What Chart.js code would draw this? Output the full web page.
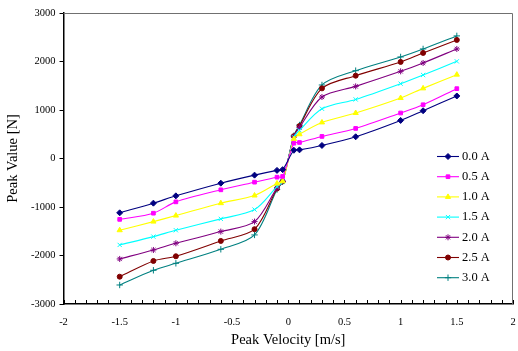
<!DOCTYPE html>
<html>
<head>
<meta charset="utf-8">
<script src="https://cdn.jsdelivr.net/npm/chart.js"></script>
<style>
  html, body { margin: 0; padding: 0; background: #fff; }
  #wrap { width: 518px; height: 351px; }
</style>
</head>
<body>
<div id="wrap"><canvas id="c" width="518" height="351"></canvas></div>
<script>
// ---- data ----
const velocities = [-1.5, -1.2, -1.0, -0.6, -0.3, -0.1, -0.05, 0.05, 0.1, 0.3, 0.6, 1.0, 1.2, 1.5];
const seriesLabels = ['0.0 A', '0.5 A', '1.0 A', '1.5 A', '2.0 A', '2.5 A', '3.0 A'];
const force00 = [-1120, -921, -770, -509, -343, -245, -230, 170, 178, 269, 448, 785, 985, 1289];
const force05 = [-1255, -1128, -894, -646, -488, -385, -370, 315, 330, 455, 620, 938, 1109, 1440];
const force10 = [-1479, -1301, -1177, -921, -763, -515, -470, 400, 500, 744, 938, 1247, 1446, 1729];
const force15 = [-1782, -1611, -1479, -1245, -1053, -580, -480, 440, 580, 1026, 1218, 1543, 1722, 2003];
const force20 = [-2071, -1886, -1748, -1507, -1301, -605, -470, 450, 640, 1268, 1487, 1797, 1970, 2259];
const force25 = [-2437, -2113, -2016, -1700, -1458, -620, -470, 460, 670, 1446, 1708, 1991, 2177, 2445];
const force30 = [-2608, -2305, -2161, -1872, -1576, -640, -480, 470, 690, 1516, 1811, 2094, 2259, 2528];
const xTicks = [-2, -1.5, -1, -0.5, 0, 0.5, 1, 1.5, 2];
const yTicks = [-3000, -2000, -1000, 0, 1000, 2000, 3000];

// ---- styles ----
const colors = ['#000080', '#FF00FF', '#FFFF00', '#00FFFF', '#800080', '#800000', '#008080'];
const markers = ['rectRot', 'rect', 'triangle', 'crossRot', 'star', 'circle', 'cross'];
const radii = [3, 2.6, 3, 3, 3, 2.5, 3.2];
const allSeries = [force00, force05, force10, force15, force20, force25, force30];

const datasets = allSeries.map((vals, i) => ({
  label: seriesLabels[i],
  data: velocities.map((v, j) => ({ x: v, y: vals[j] })),
  borderColor: colors[i],
  backgroundColor: colors[i],
  pointBackgroundColor: colors[i],
  pointBorderColor: colors[i],
  pointStyle: markers[i],
  pointRadius: radii[i],
  pointBorderWidth: 1,
  borderWidth: 1.1,
  tension: 0.3,
  fill: false
}));

const SERIF = '"Liberation Serif", "Times New Roman", serif';

const framePlugin = {
  id: 'frame',
  beforeDatasetsDraw(chart) {
    const { ctx, chartArea: a, scales: { x } } = chart;
    ctx.save();
    ctx.strokeStyle = '#707070';
    ctx.lineWidth = 1;
    ctx.beginPath();
    ctx.moveTo(a.left, a.top + 0.5);
    ctx.lineTo(a.right - 0.5, a.top + 0.5);
    ctx.lineTo(a.right - 0.5, a.bottom);
    ctx.stroke();
    ctx.strokeStyle = '#000';
    ctx.beginPath();
    for (let i = -20; i <= 20; i++) {
      const px = Math.round(x.getPixelForValue(i / 10)) + 0.5;
      ctx.moveTo(px, a.bottom);
      ctx.lineTo(px, a.bottom - 4);
    }
    ctx.stroke();
    ctx.restore();
  }
};

const legendPlugin = {
  id: 'insideLegend',
  afterDraw(chart) {
    const { ctx, chartArea: a } = chart;
    ctx.save();
    chart.data.datasets.forEach((ds, i) => {
      const y = a.top + 143.5 + i * 20.2;
      const x0 = a.right - 76, x1 = a.right - 54;
      ctx.strokeStyle = ds.borderColor;
      ctx.lineWidth = 1.1;
      ctx.beginPath();
      ctx.moveTo(x0, y);
      ctx.lineTo(x1, y);
      ctx.stroke();
      ctx.fillStyle = ds.backgroundColor;
      ctx.strokeStyle = ds.borderColor;
      ctx.lineWidth = 1;
      Chart.helpers.drawPoint(ctx, { pointStyle: ds.pointStyle, radius: ds.pointRadius, borderWidth: 1, rotation: 0 }, (x0 + x1) / 2, y);
      ctx.fillStyle = '#000';
      ctx.font = '12.5px ' + SERIF;
      ctx.textBaseline = 'middle';
      ctx.textAlign = 'left';
      ctx.fillText(ds.label, a.right - 51, y);
    });
    ctx.restore();
  }
};

new Chart(document.getElementById('c'), {
  type: 'line',
  data: { datasets },
  plugins: [framePlugin, legendPlugin],
  options: {
    responsive: false,
    devicePixelRatio: 1,
    animation: false,
    layout: { padding: { top: 13, right: 4, left: 0, bottom: 0 } },
    plugins: { legend: { display: false }, tooltip: { enabled: false } },
    scales: {
      x: {
        type: 'linear',
        min: -2, max: 2,
        afterBuildTicks: s => { s.ticks = xTicks.map(v => ({ value: v })); },
        afterFit: s => { s.height = 47; s.paddingLeft = 0; s.paddingRight = 0; },
        ticks: { font: { family: SERIF, size: 10.5 }, color: '#000', padding: 12, callback: v => String(v), maxRotation: 0, autoSkip: false },
        grid: { display: false, drawTicks: false },
        border: { display: true, color: '#000', width: 1.5 },
        title: { display: true, text: 'Peak Velocity [m/s]', font: { family: SERIF, size: 14.5 }, color: '#000', padding: { top: 0, bottom: 2 } }
      },
      y: {
        type: 'linear',
        min: -3000, max: 3000,
        afterBuildTicks: s => { s.ticks = yTicks.map(v => ({ value: v })); },
        afterFit: s => { s.width = 63.5; },
        ticks: { font: { family: SERIF, size: 10.5 }, color: '#000', padding: 4, callback: v => String(v) },
        grid: { drawOnChartArea: false, drawTicks: true, tickLength: 4, color: '#000', lineWidth: 1 },
        border: { display: true, color: '#000', width: 1.5 },
        title: { display: true, text: 'Peak Value [N]', font: { family: SERIF, size: 14.5 }, color: '#000', padding: { top: 4, bottom: 0 } }
      }
    }
  }
});
</script>
</body>
</html>
